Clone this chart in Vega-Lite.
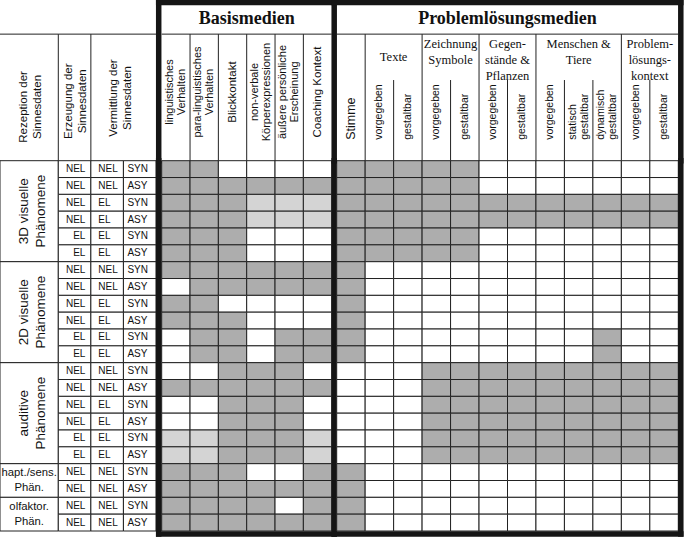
{
"$schema":"https://vega.github.io/schema/vega-lite/v6.json",
"width":685,"height":538,"padding":0,"autosize":{"type":"none"},
"background":"white",
"config":{"view":{"stroke":null},"text":{"font":"Liberation Sans","color":"#111"},"rule":{"color":"#222","strokeWidth":1}},
"datasets":{
"grid":[
{"row":"r1","erz":"NEL","ver":"NEL","mod":"SYN","b1":"D","b2":"D","b3":"W","b4":"W","b5":"W","b6":"W","p1":"D","p2":"D","p3":"D","p4":"D","p5":"D","p6":"W","p7":"W","p8":"W","p9":"W","p10":"W","p11":"W","p12":"W"},
{"row":"r2","erz":"NEL","ver":"NEL","mod":"ASY","b1":"D","b2":"D","b3":"D","b4":"D","b5":"D","b6":"D","p1":"D","p2":"D","p3":"D","p4":"D","p5":"D","p6":"W","p7":"W","p8":"W","p9":"W","p10":"W","p11":"W","p12":"W"},
{"row":"r3","erz":"NEL","ver":"EL","mod":"SYN","b1":"D","b2":"D","b3":"D","b4":"L","b5":"L","b6":"L","p1":"D","p2":"D","p3":"D","p4":"D","p5":"D","p6":"D","p7":"D","p8":"D","p9":"D","p10":"D","p11":"D","p12":"D"},
{"row":"r4","erz":"NEL","ver":"EL","mod":"ASY","b1":"D","b2":"D","b3":"D","b4":"L","b5":"L","b6":"L","p1":"D","p2":"D","p3":"D","p4":"D","p5":"D","p6":"D","p7":"D","p8":"D","p9":"D","p10":"D","p11":"D","p12":"D"},
{"row":"r5","erz":"EL","ver":"EL","mod":"SYN","b1":"D","b2":"D","b3":"D","b4":"W","b5":"W","b6":"W","p1":"D","p2":"D","p3":"D","p4":"D","p5":"D","p6":"W","p7":"W","p8":"W","p9":"W","p10":"W","p11":"W","p12":"W"},
{"row":"r6","erz":"EL","ver":"EL","mod":"ASY","b1":"D","b2":"D","b3":"D","b4":"W","b5":"W","b6":"W","p1":"D","p2":"D","p3":"D","p4":"D","p5":"D","p6":"W","p7":"W","p8":"W","p9":"W","p10":"W","p11":"W","p12":"W"},
{"row":"r7","erz":"NEL","ver":"NEL","mod":"SYN","b1":"D","b2":"D","b3":"D","b4":"D","b5":"D","b6":"D","p1":"D","p2":"W","p3":"W","p4":"W","p5":"W","p6":"W","p7":"W","p8":"W","p9":"W","p10":"W","p11":"W","p12":"W"},
{"row":"r8","erz":"NEL","ver":"NEL","mod":"ASY","b1":"W","b2":"D","b3":"D","b4":"D","b5":"D","b6":"D","p1":"D","p2":"W","p3":"W","p4":"W","p5":"W","p6":"W","p7":"W","p8":"W","p9":"W","p10":"W","p11":"W","p12":"W"},
{"row":"r9","erz":"NEL","ver":"EL","mod":"SYN","b1":"D","b2":"D","b3":"W","b4":"W","b5":"W","b6":"W","p1":"D","p2":"W","p3":"W","p4":"W","p5":"W","p6":"W","p7":"W","p8":"W","p9":"W","p10":"W","p11":"W","p12":"W"},
{"row":"r10","erz":"NEL","ver":"EL","mod":"ASY","b1":"D","b2":"D","b3":"D","b4":"W","b5":"W","b6":"W","p1":"D","p2":"W","p3":"W","p4":"W","p5":"W","p6":"W","p7":"W","p8":"W","p9":"W","p10":"W","p11":"W","p12":"W"},
{"row":"r11","erz":"EL","ver":"EL","mod":"SYN","b1":"W","b2":"D","b3":"D","b4":"W","b5":"D","b6":"D","p1":"D","p2":"W","p3":"W","p4":"W","p5":"W","p6":"W","p7":"W","p8":"W","p9":"W","p10":"D","p11":"W","p12":"W"},
{"row":"r12","erz":"EL","ver":"EL","mod":"ASY","b1":"W","b2":"D","b3":"D","b4":"W","b5":"D","b6":"D","p1":"D","p2":"W","p3":"W","p4":"W","p5":"W","p6":"W","p7":"W","p8":"W","p9":"W","p10":"D","p11":"W","p12":"W"},
{"row":"r13","erz":"NEL","ver":"NEL","mod":"SYN","b1":"W","b2":"W","b3":"D","b4":"D","b5":"D","b6":"W","p1":"W","p2":"W","p3":"W","p4":"D","p5":"D","p6":"D","p7":"D","p8":"D","p9":"D","p10":"D","p11":"D","p12":"D"},
{"row":"r14","erz":"NEL","ver":"NEL","mod":"ASY","b1":"D","b2":"D","b3":"D","b4":"D","b5":"D","b6":"D","p1":"W","p2":"W","p3":"W","p4":"D","p5":"D","p6":"D","p7":"D","p8":"D","p9":"D","p10":"D","p11":"D","p12":"D"},
{"row":"r15","erz":"NEL","ver":"EL","mod":"SYN","b1":"W","b2":"W","b3":"D","b4":"D","b5":"D","b6":"W","p1":"W","p2":"W","p3":"W","p4":"D","p5":"D","p6":"D","p7":"D","p8":"D","p9":"D","p10":"D","p11":"D","p12":"D"},
{"row":"r16","erz":"NEL","ver":"EL","mod":"ASY","b1":"W","b2":"W","b3":"D","b4":"D","b5":"D","b6":"W","p1":"W","p2":"W","p3":"W","p4":"D","p5":"D","p6":"D","p7":"D","p8":"D","p9":"D","p10":"D","p11":"D","p12":"D"},
{"row":"r17","erz":"EL","ver":"EL","mod":"SYN","b1":"L","b2":"L","b3":"D","b4":"D","b5":"D","b6":"L","p1":"W","p2":"W","p3":"W","p4":"D","p5":"D","p6":"D","p7":"D","p8":"D","p9":"D","p10":"D","p11":"D","p12":"D"},
{"row":"r18","erz":"EL","ver":"EL","mod":"ASY","b1":"L","b2":"L","b3":"D","b4":"D","b5":"D","b6":"L","p1":"W","p2":"W","p3":"W","p4":"D","p5":"D","p6":"D","p7":"D","p8":"D","p9":"D","p10":"D","p11":"D","p12":"D"},
{"row":"r19","erz":"NEL","ver":"NEL","mod":"SYN","b1":"D","b2":"D","b3":"D","b4":"W","b5":"W","b6":"D","p1":"D","p2":"W","p3":"W","p4":"W","p5":"W","p6":"W","p7":"W","p8":"W","p9":"W","p10":"W","p11":"W","p12":"W"},
{"row":"r20","erz":"NEL","ver":"NEL","mod":"ASY","b1":"D","b2":"D","b3":"D","b4":"D","b5":"D","b6":"D","p1":"D","p2":"W","p3":"W","p4":"W","p5":"W","p6":"W","p7":"W","p8":"W","p9":"W","p10":"W","p11":"W","p12":"W"},
{"row":"r21","erz":"NEL","ver":"NEL","mod":"SYN","b1":"D","b2":"D","b3":"D","b4":"D","b5":"W","b6":"D","p1":"D","p2":"W","p3":"W","p4":"W","p5":"W","p6":"W","p7":"W","p8":"W","p9":"W","p10":"W","p11":"W","p12":"W"},
{"row":"r22","erz":"NEL","ver":"NEL","mod":"ASY","b1":"D","b2":"D","b3":"D","b4":"D","b5":"D","b6":"D","p1":"D","p2":"W","p3":"W","p4":"W","p5":"W","p6":"W","p7":"W","p8":"W","p9":"W","p10":"W","p11":"W","p12":"W"}
],
"groups":[
{"grp":"3D visuelle\nPhänomene","from":"r1","to":"r6","mid":"r4","dir":"v"},
{"grp":"2D visuelle\nPhänomene","from":"r7","to":"r12","mid":"r10","dir":"v"},
{"grp":"auditive\nPhänomene","from":"r13","to":"r18","mid":"r16","dir":"v"},
{"grp":"hapt./sens.\nPhän.","from":"r19","to":"r20","mid":"r20","dir":"h"},
{"grp":"olfaktor.\nPhän.","from":"r21","to":"r22","mid":"r22","dir":"h"}
],
"rezHead":[{"label":"Rezeption der\nSinnesdaten"}],
"labelHead":[{"lcol":"erz","label":"Erzeugung der\nSinnesdaten"},{"lcol":"ver","label":"Vermittlung der\nSinnesdaten"}],
"basisHead":[{"col":"b1","label":"linguistisches\nVerhalten"},{"col":"b2","label":"para-linguistisches\nVerhalten"},{"col":"b3","label":"Blickkontakt"},{"col":"b4","label":"non-verbale\nKörperexpressionen"},{"col":"b5","label":"äußere persönliche\nErscheinung"},{"col":"b6","label":"Coaching Kontext"}],
"probHead":[{"col":"p1","label":"Stimme","line":"none"},{"col":"p2","label":"vorgegeben","line":"full"},{"col":"p3","label":"gestaltbar","line":"part"},{"col":"p4","label":"vorgegeben","line":"full"},{"col":"p5","label":"gestaltbar","line":"part"},{"col":"p6","label":"vorgegeben","line":"full"},{"col":"p7","label":"gestaltbar","line":"part"},{"col":"p8","label":"vorgegeben","line":"full"},{"col":"p9","label":"statisch\ngestaltbar","line":"part"},{"col":"p10","label":"dynamisch\ngestaltbar","line":"part"},{"col":"p11","label":"vorgegeben","line":"full"},{"col":"p12","label":"gestaltbar","line":"part"}],
"probGroups":[{"grp":"Texte","anchor":"p3","kind":"mid"},{"grp":"Zeichnung\nSymbole","anchor":"p5","kind":"edge"},{"grp":"Gegen-\nstände &\nPflanzen","anchor":"p7","kind":"edge"},{"grp":"Menschen &\nTiere","anchor":"p9","kind":"center"},{"grp":"Problem-\nlösungs-\nkontext","anchor":"p12","kind":"edge"}],
"titles":[{"part":"basis","title":"Basismedien"},{"part":"prob","title":"Problemlösungsmedien"}],
"one":[{}]
},
"layer":[
{"data":{"name":"groups"},
 "layer":[
  {"mark":{"type":"rect","fill":"white","stroke":"#222","strokeWidth":1},
   "encoding":{"x":{"datum":"rez","type":"nominal","scale":{"type":"band","domain":["rez"],"range":[0,58.3],"paddingInner":0,"paddingOuter":0},"axis":null},
     "y":{"field":"from","type":"nominal","bandPosition":0,"scale":{"type":"band","domain":["r1","r2","r3","r4","r5","r6","r7","r8","r9","r10","r11","r12","r13","r14","r15","r16","r17","r18","r19","r20","r21","r22"],"range":[160.7,531],"paddingInner":0,"paddingOuter":0},"axis":null},
     "y2":{"field":"to","bandPosition":1}}},
  {"transform":[{"filter":"datum.dir==='v'"}],
   "mark":{"type":"text","angle":270,"fontSize":13.5,"lineHeight":17,"lineBreak":"\n","align":"center","baseline":"middle","dy":-8.5},
   "encoding":{"x":{"datum":"rez","type":"nominal","bandPosition":0.55},
     "y":{"field":"mid","type":"nominal","bandPosition":0},
     "text":{"field":"grp"}}},
  {"transform":[{"filter":"datum.dir==='h'"}],
   "mark":{"type":"text","fontSize":11.3,"lineHeight":15,"lineBreak":"\n","align":"center","baseline":"middle","dy":-7.5},
   "encoding":{"x":{"datum":"rez","type":"nominal","bandPosition":0.5},
     "y":{"field":"mid","type":"nominal","bandPosition":0},
     "text":{"field":"grp"}}}
 ]},
{"data":{"name":"grid"},
 "transform":[{"fold":["erz","ver","mod"],"as":["lcol","txt"]}],
 "encoding":{"x":{"field":"lcol","type":"nominal","scale":{"type":"band","domain":["erz","ver","mod"],"range":[58.3,156],"paddingInner":0,"paddingOuter":0},"axis":null},
   "y":{"field":"row","type":"nominal","scale":{"type":"band","domain":["r1","r2","r3","r4","r5","r6","r7","r8","r9","r10","r11","r12","r13","r14","r15","r16","r17","r18","r19","r20","r21","r22"],"range":[160.7,531],"paddingInner":0,"paddingOuter":0},"axis":null}},
 "layer":[
  {"mark":{"type":"rect","fill":"white","stroke":"#222","strokeWidth":1}},
  {"transform":[{"filter":"datum.lcol==='erz'"}],
   "mark":{"type":"text","fontSize":10,"align":"right","baseline":"middle","dx":-5.5},
   "encoding":{"x":{"field":"lcol","type":"nominal","bandPosition":1},"text":{"field":"txt"}}},
  {"transform":[{"filter":"datum.lcol==='ver'"}],
   "mark":{"type":"text","fontSize":10,"align":"left","baseline":"middle","dx":7.5},
   "encoding":{"x":{"field":"lcol","type":"nominal","bandPosition":0},"text":{"field":"txt"}}},
  {"transform":[{"filter":"datum.lcol==='mod'"}],
   "mark":{"type":"text","fontSize":10,"align":"left","baseline":"middle","dx":4},
   "encoding":{"x":{"field":"lcol","type":"nominal","bandPosition":0},"text":{"field":"txt"}}}
 ]},
{"layer":[
  {"data":{"name":"grid"},
   "transform":[{"fold":["b1","b2","b3","b4","b5","b6"],"as":["col","v"]}],
   "mark":{"type":"rect","stroke":"#222","strokeWidth":1},
   "encoding":{"x":{"field":"col","type":"nominal","scale":{"type":"band","domain":["b1","b2","b3","b4","b5","b6"],"range":[161.7,331.7],"paddingInner":0,"paddingOuter":0},"axis":null},
     "y":{"field":"row","type":"nominal","scale":{"type":"band","domain":["r1","r2","r3","r4","r5","r6","r7","r8","r9","r10","r11","r12","r13","r14","r15","r16","r17","r18","r19","r20","r21","r22"],"range":[160.7,531],"paddingInner":0,"paddingOuter":0},"axis":null},
     "color":{"field":"v","type":"nominal","scale":{"domain":["D","L","W"],"range":["#adadad","#d4d4d4","#ffffff"]},"legend":null}}},
  {"data":{"name":"one"},
   "mark":{"type":"rule","strokeWidth":5.5,"color":"#151515","strokeCap":"square","xOffset":-3,"y2Offset":3},
   "encoding":{"x":{"datum":"b1","type":"nominal","bandPosition":0},"y":{"datum":"r1","type":"nominal","bandPosition":0},"y2":{"datum":"r22","bandPosition":1}}},
  {"data":{"name":"one"},
   "mark":{"type":"rule","strokeWidth":5.5,"color":"#151515","strokeCap":"square","xOffset":2.5,"y2Offset":3},
   "encoding":{"x":{"datum":"b6","type":"nominal","bandPosition":1},"y":{"datum":"r1","type":"nominal","bandPosition":0},"y2":{"datum":"r22","bandPosition":1}}},
  {"data":{"name":"one"},
   "mark":{"type":"rule","strokeWidth":5.5,"color":"#151515","strokeCap":"square","xOffset":-3,"x2Offset":2.5,"yOffset":3},
   "encoding":{"x":{"datum":"b1","type":"nominal","bandPosition":0},"x2":{"datum":"b6","bandPosition":1},"y":{"datum":"r22","type":"nominal","bandPosition":1}}}
 ]},
{"layer":[
  {"data":{"name":"grid"},
   "transform":[{"fold":["p1","p2","p3","p4","p5","p6","p7","p8","p9","p10","p11","p12"],"as":["col","v"]}],
   "mark":{"type":"rect","stroke":"#222","strokeWidth":1},
   "encoding":{"x":{"field":"col","type":"nominal","scale":{"type":"band","domain":["p1","p2","p3","p4","p5","p6","p7","p8","p9","p10","p11","p12"],"range":[336.7,678.3],"paddingInner":0,"paddingOuter":0},"axis":null},
     "y":{"field":"row","type":"nominal","scale":{"type":"band","domain":["r1","r2","r3","r4","r5","r6","r7","r8","r9","r10","r11","r12","r13","r14","r15","r16","r17","r18","r19","r20","r21","r22"],"range":[160.7,531],"paddingInner":0,"paddingOuter":0},"axis":null},
     "color":{"field":"v","type":"nominal","scale":{"domain":["D","L","W"],"range":["#adadad","#d4d4d4","#ffffff"]},"legend":null}}},
  {"data":{"name":"one"},
   "mark":{"type":"rule","strokeWidth":5.5,"color":"#151515","strokeCap":"square","xOffset":2.5,"y2Offset":3},
   "encoding":{"x":{"datum":"p12","type":"nominal","bandPosition":1},"y":{"datum":"r1","type":"nominal","bandPosition":0},"y2":{"datum":"r22","bandPosition":1}}},
  {"data":{"name":"one"},
   "mark":{"type":"rule","strokeWidth":5.5,"color":"#151515","strokeCap":"square","xOffset":-2.5,"x2Offset":2.5,"yOffset":3},
   "encoding":{"x":{"datum":"p1","type":"nominal","bandPosition":0},"x2":{"datum":"p12","bandPosition":1},"y":{"datum":"r22","type":"nominal","bandPosition":1}}}
 ]},
{"layer":[
  {"data":{"name":"one"},
   "mark":{"type":"rule"},
   "encoding":{"x":{"datum":"rez","type":"nominal","bandPosition":0,"scale":{"type":"band","domain":["rez"],"range":[0,58.3],"paddingInner":0,"paddingOuter":0},"axis":null},"x2":{"datum":"rez","bandPosition":1},
     "y":{"datum":"h1","type":"nominal","bandPosition":0,"scale":{"type":"band","domain":["title","h1","h2","h3","h4","end"],"range":[2.5,192.34],"paddingInner":0,"paddingOuter":0},"axis":null}}},
  {"data":{"name":"rezHead"},
   "mark":{"type":"text","angle":270,"fontSize":11.5,"lineHeight":14,"lineBreak":"\n","align":"center","baseline":"middle","dy":-7},
   "encoding":{"x":{"datum":"rez","type":"nominal","bandPosition":0.53},"y":{"datum":"h3","type":"nominal","bandPosition":0.3},"text":{"field":"label"}}}
 ]},
{"layer":[
  {"data":{"name":"labelHead"},
   "mark":{"type":"rule"},
   "encoding":{"x":{"field":"lcol","type":"nominal","bandPosition":0,"scale":{"type":"band","domain":["erz","ver","mod"],"range":[58.3,156],"paddingInner":0,"paddingOuter":0},"axis":null},
     "y":{"datum":"h1","type":"nominal","bandPosition":0,"scale":{"type":"band","domain":["title","h1","h2","h3","h4","end"],"range":[2.5,192.34],"paddingInner":0,"paddingOuter":0},"axis":null},"y2":{"datum":"end","bandPosition":0}}},
  {"data":{"name":"one"},
   "mark":{"type":"rule"},
   "encoding":{"x":{"datum":"erz","type":"nominal","bandPosition":0},"x2":{"datum":"mod","bandPosition":1},"y":{"datum":"h1","type":"nominal","bandPosition":0}}},
  {"data":{"name":"labelHead"},
   "transform":[{"filter":"datum.lcol==='erz'"}],
   "mark":{"type":"text","angle":270,"fontSize":11.5,"lineHeight":14,"lineBreak":"\n","align":"center","baseline":"middle","dy":-7},
   "encoding":{"x":{"field":"lcol","type":"nominal","bandPosition":0.55},"y":{"datum":"h3","type":"nominal","bandPosition":0.12},"text":{"field":"label"}}},
  {"data":{"name":"labelHead"},
   "transform":[{"filter":"datum.lcol==='ver'"}],
   "mark":{"type":"text","angle":270,"fontSize":11.5,"lineHeight":14,"lineBreak":"\n","align":"center","baseline":"middle","dy":-7},
   "encoding":{"x":{"field":"lcol","type":"nominal","bandPosition":0.92},"y":{"datum":"h3","type":"nominal","bandPosition":0.02},"text":{"field":"label"}}}
 ]},
{"layer":[
  {"data":{"name":"basisHead"},
   "transform":[{"filter":"datum.col!=='b1'"}],
   "mark":{"type":"rule"},
   "encoding":{"x":{"field":"col","type":"nominal","bandPosition":0,"scale":{"type":"band","domain":["b1","b2","b3","b4","b5","b6"],"range":[161.7,331.7],"paddingInner":0,"paddingOuter":0},"axis":null},
     "y":{"datum":"h1","type":"nominal","bandPosition":0,"scale":{"type":"band","domain":["title","h1","h2","h3","h4","end"],"range":[2.5,192.34],"paddingInner":0,"paddingOuter":0},"axis":null},"y2":{"datum":"end","bandPosition":0}}},
  {"data":{"name":"basisHead"},
   "transform":[{"filter":"datum.col!=='b3' && datum.col!=='b6'"}],
   "mark":{"type":"text","angle":270,"fontSize":11,"lineHeight":12,"lineBreak":"\n","align":"center","baseline":"middle","dy":-6},
   "encoding":{"x":{"field":"col","type":"nominal","bandPosition":0.5},"y":{"datum":"h2","type":"nominal","bandPosition":0.83},"text":{"field":"label"}}},
  {"data":{"name":"basisHead"},
   "transform":[{"filter":"datum.col==='b3' || datum.col==='b6'"}],
   "mark":{"type":"text","angle":270,"fontSize":11.5,"align":"center","baseline":"middle"},
   "encoding":{"x":{"field":"col","type":"nominal","bandPosition":0.5},"y":{"datum":"h2","type":"nominal","bandPosition":0.83},"text":{"field":"label"}}},
  {"data":{"name":"one"},
   "mark":{"type":"rule"},
   "encoding":{"x":{"datum":"b1","type":"nominal","bandPosition":0},"x2":{"datum":"b6","bandPosition":1},"y":{"datum":"h1","type":"nominal","bandPosition":0}}},
  {"data":{"name":"titles"},
   "transform":[{"filter":"datum.part==='basis'"}],
   "mark":{"type":"text","font":"Liberation Serif","fontWeight":"bold","fontSize":18,"align":"center","baseline":"middle"},
   "encoding":{"x":{"datum":"b4","type":"nominal","bandPosition":0},"y":{"datum":"title","type":"nominal","bandPosition":0.53},"text":{"field":"title"}}},
  {"data":{"name":"one"},
   "mark":{"type":"rule","strokeWidth":5.5,"color":"#151515","strokeCap":"square","xOffset":-3},
   "encoding":{"x":{"datum":"b1","type":"nominal","bandPosition":0},"y":{"datum":"title","type":"nominal","bandPosition":0},"y2":{"datum":"end","bandPosition":0}}},
  {"data":{"name":"one"},
   "mark":{"type":"rule","strokeWidth":5.5,"color":"#151515","strokeCap":"square","xOffset":2.5},
   "encoding":{"x":{"datum":"b6","type":"nominal","bandPosition":1},"y":{"datum":"title","type":"nominal","bandPosition":0},"y2":{"datum":"end","bandPosition":0}}},
  {"data":{"name":"one"},
   "mark":{"type":"rule","strokeWidth":5.5,"color":"#151515","strokeCap":"square","xOffset":-3,"x2Offset":2.5},
   "encoding":{"x":{"datum":"b1","type":"nominal","bandPosition":0},"x2":{"datum":"b6","bandPosition":1},"y":{"datum":"title","type":"nominal","bandPosition":0}}}
 ]},
{"layer":[
  {"data":{"name":"probHead"},
   "transform":[{"filter":"datum.line==='full'"}],
   "mark":{"type":"rule"},
   "encoding":{"x":{"field":"col","type":"nominal","bandPosition":0,"scale":{"type":"band","domain":["p1","p2","p3","p4","p5","p6","p7","p8","p9","p10","p11","p12"],"range":[336.7,678.3],"paddingInner":0,"paddingOuter":0},"axis":null},
     "y":{"datum":"h1","type":"nominal","bandPosition":0,"scale":{"type":"band","domain":["title","h1","h2","h3","h4","end"],"range":[2.5,192.34],"paddingInner":0,"paddingOuter":0},"axis":null},"y2":{"datum":"end","bandPosition":0}}},
  {"data":{"name":"probHead"},
   "transform":[{"filter":"datum.line==='part'"}],
   "mark":{"type":"rule"},
   "encoding":{"x":{"field":"col","type":"nominal","bandPosition":0},"y":{"datum":"h2","type":"nominal","bandPosition":0.45},"y2":{"datum":"end","bandPosition":0}}},
  {"data":{"name":"probHead"},
   "transform":[{"filter":"datum.col!=='p1' && datum.col!=='p9' && datum.col!=='p10'"}],
   "mark":{"type":"text","angle":270,"fontSize":10.5,"align":"left","baseline":"middle"},
   "encoding":{"x":{"field":"col","type":"nominal","bandPosition":0.5},"y":{"datum":"h4","type":"nominal","bandPosition":0.34},"text":{"field":"label"}}},
  {"data":{"name":"probHead"},
   "transform":[{"filter":"datum.col==='p9' || datum.col==='p10'"}],
   "mark":{"type":"text","angle":270,"fontSize":10.5,"lineHeight":12,"lineBreak":"\n","align":"left","baseline":"middle","dy":-6},
   "encoding":{"x":{"field":"col","type":"nominal","bandPosition":0.5},"y":{"datum":"h4","type":"nominal","bandPosition":0.34},"text":{"field":"label"}}},
  {"data":{"name":"probHead"},
   "transform":[{"filter":"datum.col==='p1'"}],
   "mark":{"type":"text","angle":270,"fontSize":12.5,"align":"left","baseline":"middle"},
   "encoding":{"x":{"field":"col","type":"nominal","bandPosition":0.5},"y":{"datum":"h4","type":"nominal","bandPosition":0.34},"text":{"field":"label"}}},
  {"data":{"name":"probGroups"},
   "transform":[{"filter":"datum.kind==='edge'"}],
   "mark":{"type":"text","font":"Liberation Serif","fontSize":12.5,"lineHeight":16,"lineBreak":"\n","align":"center","baseline":"top"},
   "encoding":{"x":{"field":"anchor","type":"nominal","bandPosition":0},"y":{"datum":"h1","type":"nominal","bandPosition":0.12},"text":{"field":"grp"}}},
  {"data":{"name":"probGroups"},
   "transform":[{"filter":"datum.kind==='center'"}],
   "mark":{"type":"text","font":"Liberation Serif","fontSize":12.5,"lineHeight":16,"lineBreak":"\n","align":"center","baseline":"top"},
   "encoding":{"x":{"field":"anchor","type":"nominal","bandPosition":0.5},"y":{"datum":"h1","type":"nominal","bandPosition":0.12},"text":{"field":"grp"}}},
  {"data":{"name":"probGroups"},
   "transform":[{"filter":"datum.kind==='mid'"}],
   "mark":{"type":"text","font":"Liberation Serif","fontSize":12.5,"align":"center","baseline":"middle"},
   "encoding":{"x":{"field":"anchor","type":"nominal","bandPosition":0},"y":{"datum":"h1","type":"nominal","bandPosition":0.72},"text":{"field":"grp"}}},
  {"data":{"name":"one"},
   "mark":{"type":"rule"},
   "encoding":{"x":{"datum":"p1","type":"nominal","bandPosition":0},"x2":{"datum":"p12","bandPosition":1},"y":{"datum":"h1","type":"nominal","bandPosition":0}}},
  {"data":{"name":"titles"},
   "transform":[{"filter":"datum.part==='prob'"}],
   "mark":{"type":"text","font":"Liberation Serif","fontWeight":"bold","fontSize":18,"align":"center","baseline":"middle"},
   "encoding":{"x":{"datum":"p7","type":"nominal","bandPosition":0},"y":{"datum":"title","type":"nominal","bandPosition":0.53},"text":{"field":"title"}}},
  {"data":{"name":"one"},
   "mark":{"type":"rule","strokeWidth":5.5,"color":"#151515","strokeCap":"square","xOffset":2.5},
   "encoding":{"x":{"datum":"p12","type":"nominal","bandPosition":1},"y":{"datum":"title","type":"nominal","bandPosition":0},"y2":{"datum":"end","bandPosition":0}}},
  {"data":{"name":"one"},
   "mark":{"type":"rule","strokeWidth":5.5,"color":"#151515","strokeCap":"square","xOffset":-2.5,"x2Offset":2.5},
   "encoding":{"x":{"datum":"p1","type":"nominal","bandPosition":0},"x2":{"datum":"p12","bandPosition":1},"y":{"datum":"title","type":"nominal","bandPosition":0}}}
 ]}
],
"resolve":{"scale":{"x":"independent","y":"independent"}}
}
